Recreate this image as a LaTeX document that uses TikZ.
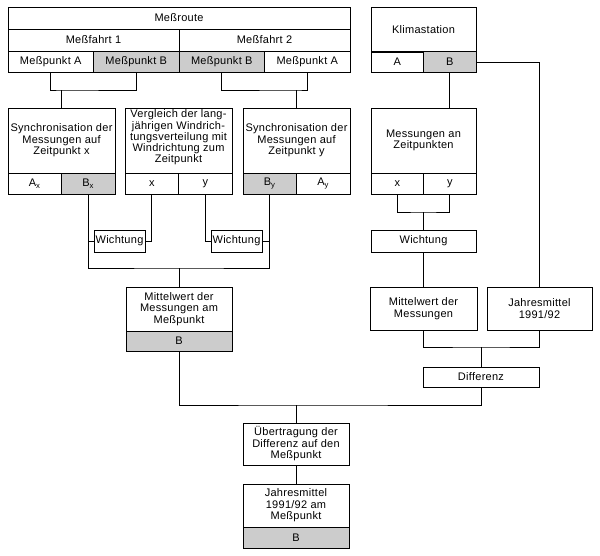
\documentclass[tikz,border=0pt]{standalone}
\usepackage{fontspec}
\setmainfont[LetterSpace=2.5]{Liberation Sans}
\usetikzlibrary{calc}
\definecolor{cellgrey}{HTML}{CCCCCC}
\tikzset{
    every picture/.style={line join=miter},
    txtbox/.style={draw=black,line width=0.8pt,inner sep=0pt,outer sep=0pt,
      align=center,font=\fontsize{11}{11.5}\selectfont},
    boxsize/.style 2 args={minimum width=#1pt,minimum height=#2pt},
    shaded/.style={fill=cellgrey},
    link/.style={draw=black,line width=0.8pt}
}
\begin{document}
\begin{tikzpicture}[x=1pt,y=-1pt]
  \useasboundingbox[fill=white] (0,0) rectangle (600,555);

  % measuring route table
  \node[txtbox,boxsize={342}{22}] (route) at (179,18) {Meßroute};
  \node[txtbox,boxsize={171}{22}] (fahrt1) at (93.5,40) {Meßfahrt 1};
  \node[txtbox,boxsize={171}{22}] (fahrt2) at (264.5,40) {Meßfahrt 2};

  \node[txtbox,boxsize={107}{65}] (sx) at (61.5,140.5)
    {Synchronisation der\\Messungen auf\\Zeitpunkt x};
  \node[txtbox,boxsize={107}{65},font=\fontsize{11}{9.8}\selectfont,text depth=8pt] (vg) at (178.5,140.5)
    {Vergleich der lang-\\jährigen Windrich-\\tungsverteilung mit\\Windrichtung zum\\Zeitpunkt};
  \node[txtbox,boxsize={107}{65}] (sy) at (296.5,140.5)
    {Synchronisation der\\Messungen auf\\Zeitpunkt y};
  \node[txtbox,boxsize={105}{45}] (ks) at (423.5,29.5) {Klimastation};
  \node[txtbox,boxsize={105}{65}] (mz) at (423.5,140.5) {Messungen an\\Zeitpunkten};

  \foreach \n/\cx/\cy/\w/\t in {pA1/50.75/61.5/85.5/Meßpunkt A,
      pA2/307.25/61.5/85.5/Meßpunkt A,
      Ax/34.75/183.5/53.5/A\textsubscript{x},
      vx/151.75/183.5/53.5/x, vy/205.25/183.5/53.5/y,
      Ay/323.25/183.5/53.5/A\textsubscript{y},
      kA/397.25/62/52.5/A, mx/397.25/183.5/52.5/x, my/449.75/183.5/52.5/y}
    \node[txtbox,boxsize={\w}{21}] (\n) at (\cx,\cy) {\t};
  \foreach \n/\cx/\cy/\w/\t in {pB1/136.25/61.5/85.5/Meßpunkt B,
      pB2/221.75/61.5/85.5/Meßpunkt B,
      Bx/88.25/183.5/53.5/B\textsubscript{x},
      By/269.75/183.5/53.5/B\textsubscript{y},
      kB/449.75/62/52.5/B}
    \node[txtbox,shaded,boxsize={\w}{21}] (\n) at (\cx,\cy) {\t};

  \node[txtbox,boxsize={51}{22}] (wl) at (119.5,241) {Wichtung};
  \node[txtbox,boxsize={51}{22}] (wr) at (236.5,241) {Wichtung};
  \node[txtbox,boxsize={105}{22}] (kw) at (423.5,241) {Wichtung};

  \node[txtbox,boxsize={106}{44}] (mw) at (179,309)
    {Mittelwert der\\Messungen am\\Meßpunkt};
  \node[txtbox,shaded,boxsize={106}{20}] (mwB) at (179,341) {B};
  \node[txtbox,boxsize={107}{43}] (mm) at (423.5,308.5) {Mittelwert der\\Messungen};
  \node[txtbox,boxsize={105}{43}] (jm) at (539.5,308.5) {Jahresmittel\\1991/92};
  \node[txtbox,boxsize={116}{20}] (diff) at (481,377) {Differenz};
  \node[txtbox,boxsize={106}{42}] (ue) at (296,444)
    {Übertragung der\\Differenz auf den\\Meßpunkt};
  \node[txtbox,boxsize={106}{43}] (jam) at (296,505.5)
    {Jahresmittel\\1991/92 am\\Meßpunkt};
  \node[txtbox,shaded,boxsize={106}{21}] (jamB) at (296,537.5) {B};

  \coordinate (j1) at (61.5,90);
  \coordinate (j2) at (296.5,90);
  \coordinate (j3) at (179,268);
  \coordinate (j4) at (423.5,212);
  \coordinate (j5) at (481,347);
  \coordinate (j6) at (296,405);

  \draw[link] (pA1.south) |- (j1) -| (pB1.south);
  \draw[link] (j1) -- (sx.north);
  \draw[link] (pB2.south) |- (j2) -| (pA2.south);
  \draw[link] (j2) -- (sy.north);
  \draw[link] (Bx.south) |- (j3) -| (By.south);
  \draw[link] (j3) -- (mw.north);
  \draw[link] (vx.south) |- (wl.east);
  \draw[link] (wl.west) -- (wl.west -| Bx.south);
  \draw[link] (vy.south) |- (wr.west);
  \draw[link] (wr.east) -- (wr.east -| By.south);

  \draw[link] (kB.south) -- (kB.south |- mz.north);
  \draw[link] (kB.east) -| (jm.north);
  \draw[link] (mx.south) |- (j4) -| (my.south);
  \draw[link] (j4) -- (kw.north);
  \draw[link] (kw.south) -- (mm.north);
  \draw[link] (mm.south) |- (j5) -| (jm.south);
  \draw[link] (j5) -- (diff.north);
  \draw[link] (mwB.south) |- (j6) -| (diff.south);
  \draw[link] (j6) -- (ue.north);
  \draw[link] (ue.south) -- (jam.north);
\end{tikzpicture}
\end{document}
